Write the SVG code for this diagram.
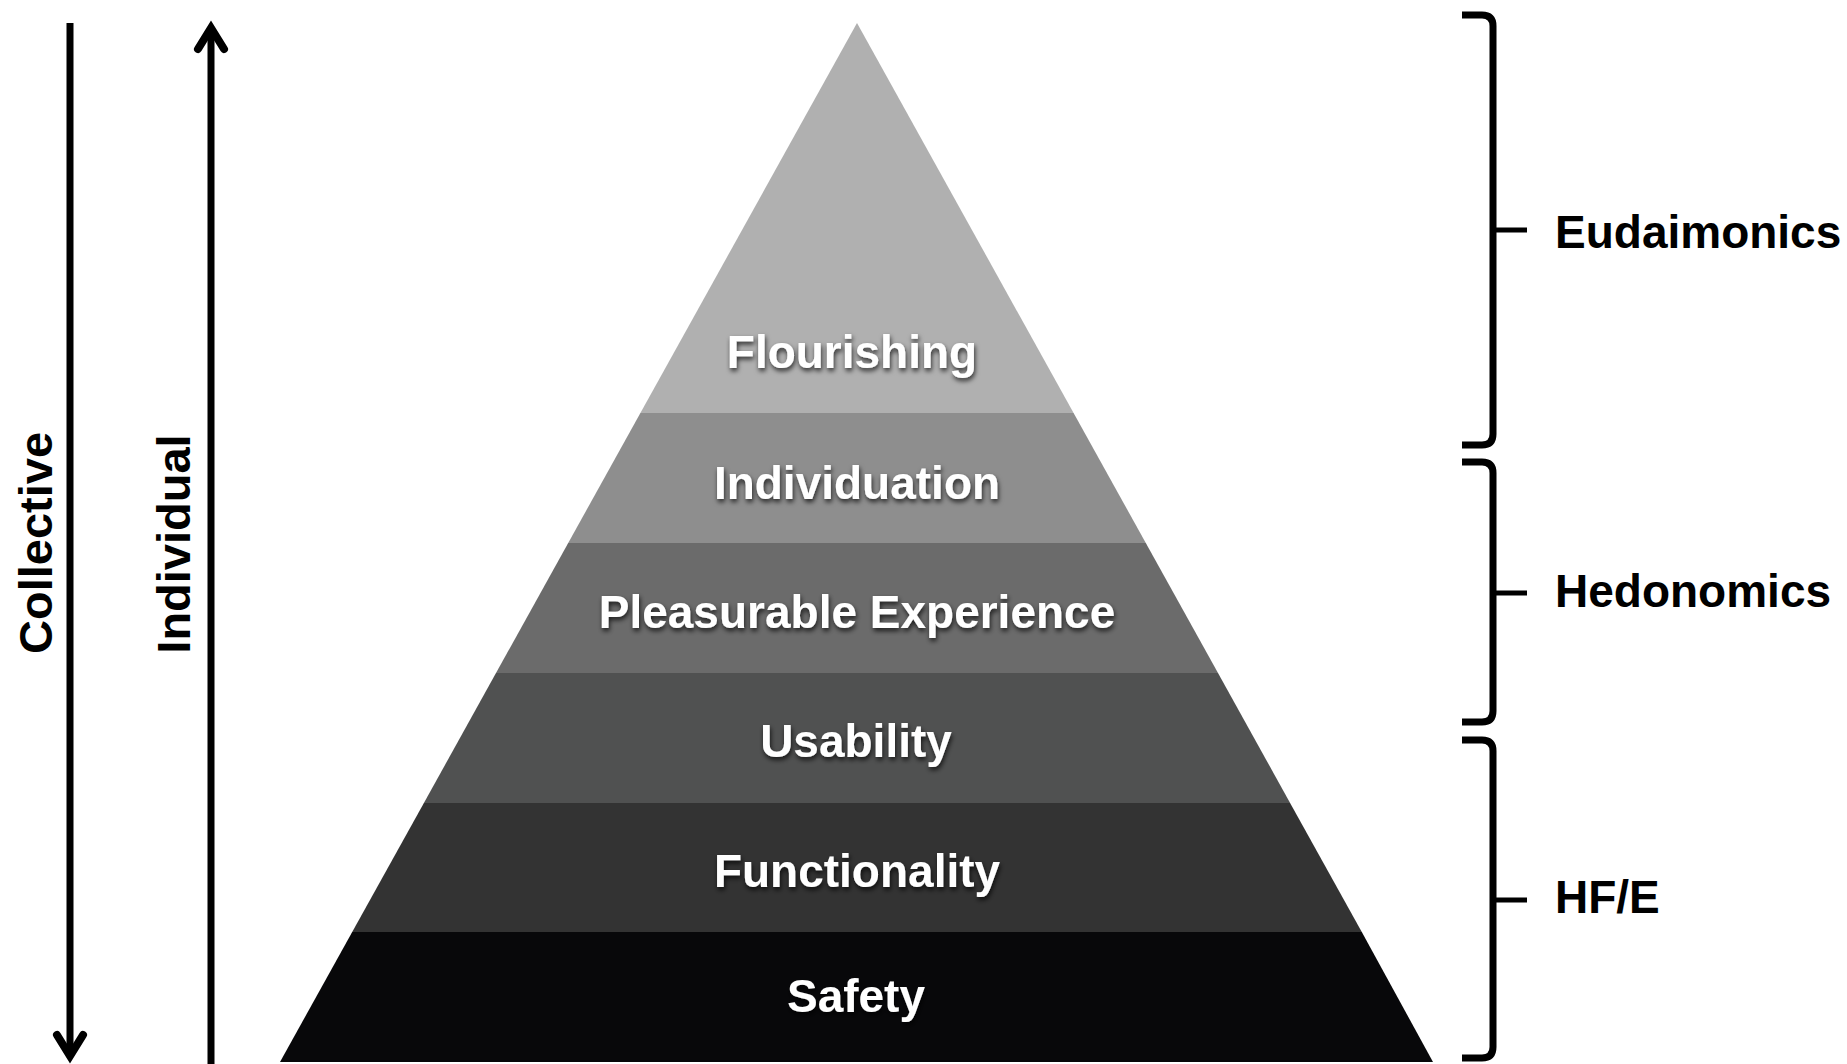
<svg xmlns="http://www.w3.org/2000/svg" width="1847" height="1064" viewBox="0 0 1847 1064">
  <style>
    .lvl { font-family: "Liberation Sans", Arial, sans-serif; font-weight: bold; font-size: 46px; fill: #ffffff; text-anchor: middle; filter: url(#shadow); }
    .lab { font-family: "Liberation Sans", Arial, sans-serif; font-weight: bold; font-size: 46px; fill: #000000; }
    .vlab { font-family: "Liberation Sans", Arial, sans-serif; font-weight: bold; font-size: 47px; fill: #000000; text-anchor: middle; }
    .ln { fill: none; stroke: #000000; stroke-width: 7; }
    .head { fill: none; stroke: #000000; stroke-width: 8; stroke-linejoin: miter; stroke-linecap: round; }
    .br { fill: none; stroke: #000000; stroke-width: 7; stroke-linecap: butt; stroke-linejoin: round; }
  </style>
  <defs>
    <filter id="shadow" x="-10%" y="-30%" width="120%" height="170%">
      <feDropShadow dx="1" dy="3" stdDeviation="2.5" flood-color="#000000" flood-opacity="0.75"/>
    </filter>
  </defs>
  <rect width="1847" height="1064" fill="#ffffff"/>

  <g id="flourishing">
    <polygon points="857,23 1073.6,413 640.4,413" fill="#b0b0b0"/>
    <text class="lvl" x="852" y="368">Flourishing</text>
  </g>
  <g id="individuation">
    <polygon points="640.4,413 1073.6,413 1145.8,543 568.2,543" fill="#8e8e8e"/>
    <text class="lvl" x="857" y="499">Individuation</text>
  </g>
  <g id="pleasurable-experience">
    <polygon points="568.2,543 1145.8,543 1218,673 496,673" fill="#6b6b6b"/>
    <text class="lvl" x="857" y="628">Pleasurable Experience</text>
  </g>
  <g id="usability">
    <polygon points="496,673 1218,673 1290.1,803 423.9,803" fill="#505151"/>
    <text class="lvl" x="856" y="757">Usability</text>
  </g>
  <g id="functionality">
    <polygon points="423.9,803 1290.1,803 1361.8,932 352.2,932" fill="#333333"/>
    <text class="lvl" x="857" y="887">Functionality</text>
  </g>
  <g id="safety">
    <polygon points="352.2,932 1361.8,932 1433,1062 280,1062" fill="#08080a"/>
    <text class="lvl" x="856" y="1012">Safety</text>
  </g>

  <g id="collective">
    <text class="vlab" transform="translate(52,543) rotate(-90)">Collective</text>
  </g>
  <g id="individual">
    <text class="vlab" transform="translate(190,544) rotate(-90)">Individual</text>
  </g>

  <g id="eudaimonics">
    <text class="lab" x="1555" y="248">Eudaimonics</text>
  </g>
  <g id="hedonomics">
    <text class="lab" x="1555" y="607">Hedonomics</text>
  </g>
  <g id="hfe">
    <text class="lab" x="1555" y="913">HF/E</text>
  </g>

  <g id="connectors">
    <!-- Collective: downward arrow -->
    <line class="ln" x1="70" y1="23" x2="70" y2="1054"/>
    <polyline class="head" points="57,1035 70,1056 83,1035"/>
    <!-- Individual: upward arrow -->
    <line class="ln" x1="211" y1="1064" x2="211" y2="30"/>
    <polyline class="head" points="198,49 211,28 224,49"/>
    <!-- Brackets -->
    <path class="br" d="M1462,15 L1482,15 Q1493,15 1493,26 L1493,434 Q1493,445 1482,445 L1462,445"/>
    <path class="br" d="M1493,230 L1527,230" style="stroke-width:5"/>
    <path class="br" d="M1462,462 L1482,462 Q1493,462 1493,473 L1493,711 Q1493,722 1482,722 L1462,722"/>
    <path class="br" d="M1493,593 L1527,593" style="stroke-width:5"/>
    <path class="br" d="M1462,740 L1482,740 Q1493,740 1493,751 L1493,1047 Q1493,1058 1482,1058 L1462,1058"/>
    <path class="br" d="M1493,900 L1527,900" style="stroke-width:5"/>
  </g>
</svg>
